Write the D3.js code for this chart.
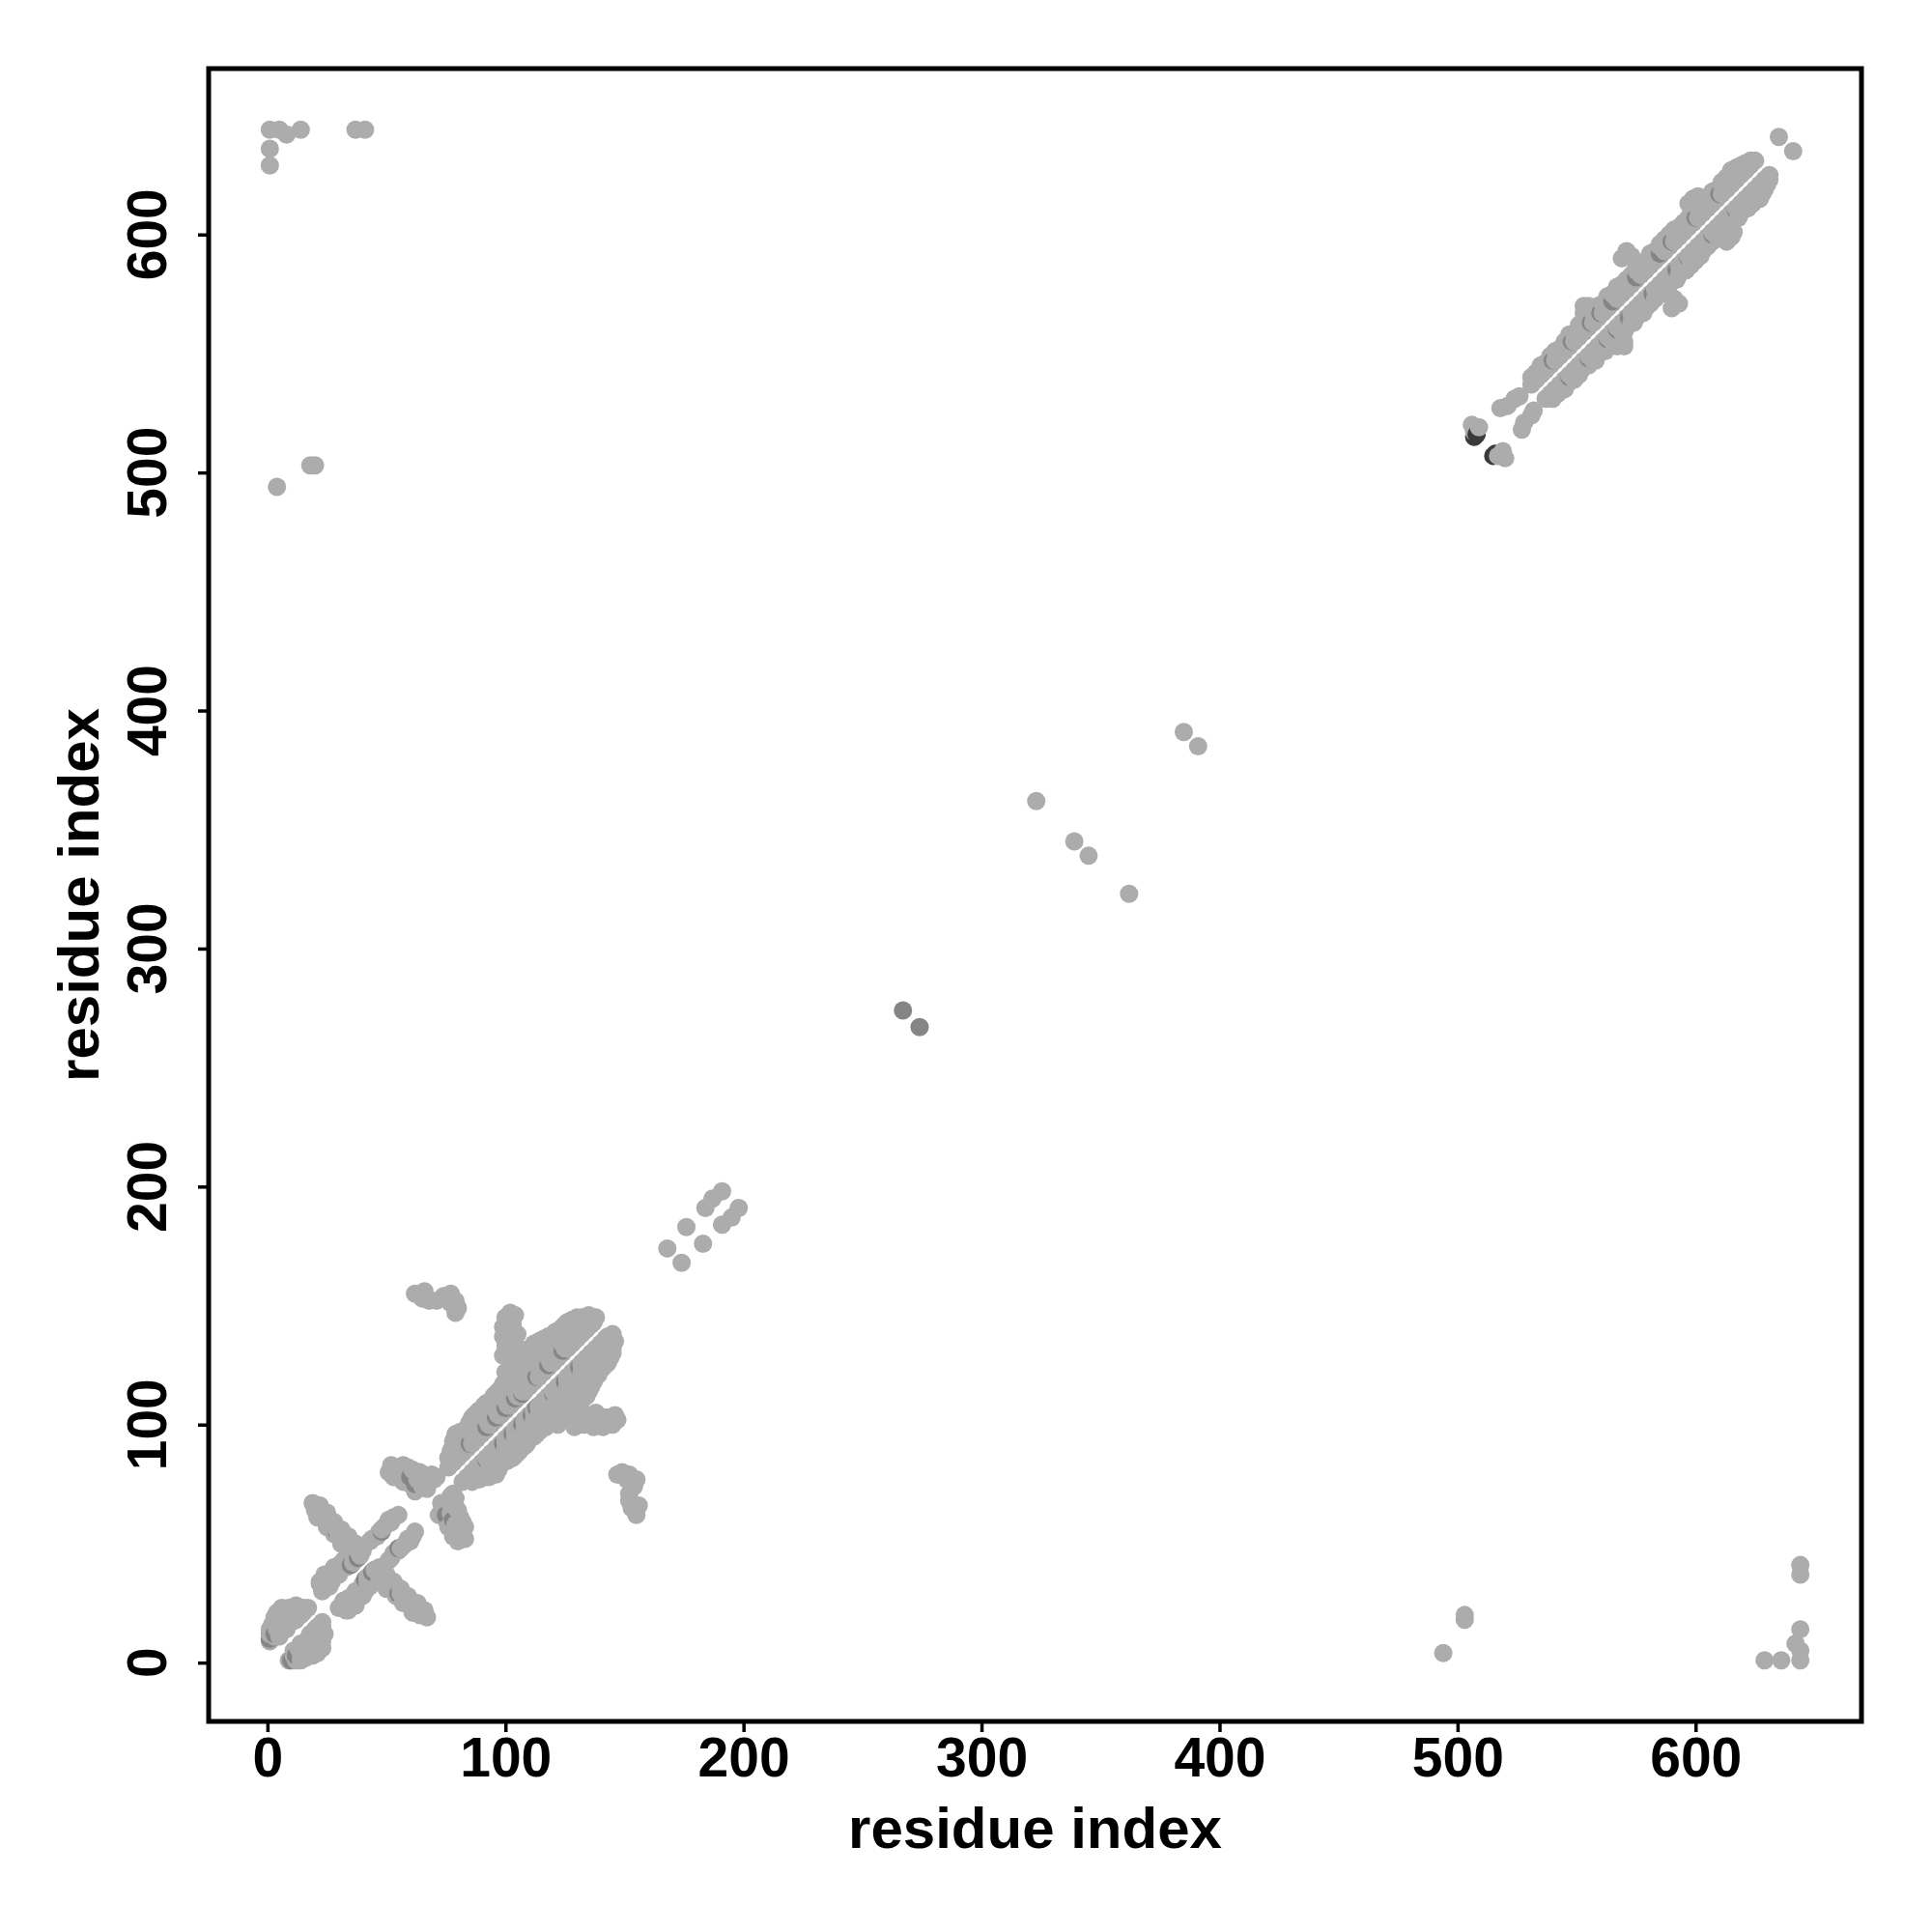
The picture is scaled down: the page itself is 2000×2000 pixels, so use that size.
<!DOCTYPE html>
<html>
<head>
<meta charset="utf-8">
<script src="https://cdn.jsdelivr.net/npm/d3@7"></script>
<style>
  html, body { margin: 0; padding: 0; background: #ffffff; }
  svg { display: block; }
</style>
</head>
<body>
<script>
// ---------------- DATA (contact pairs i < j, residue indices) ----------------
const tickValues = [0, 100, 200, 300, 400, 500, 600];
const xTitle = "residue index";
const yTitle = "residue index";

const contactsA = [[1,9],[1,12],[1,14],[2,16],[3,19],[4,21],[6,23],[9,23],[12,24],[15,23],[17,23],[3,11],[4,14],[5,17],[7,20],[9,20],[11,21],[13,21],[15,21],[6,13],[8,16],[10,17],[12,18],[14,20],[8,14],[5,11]];

const contactsB = [[19,67],[20,64],[21,61],[22,66],[23,63],[24,60],[25,57],[25,63],[26,60],[27,57],[28,54],[28,59],[29,56],[30,53],[31,50],[31,56],[32,53],[33,50],[34,47],[34,53],[35,50],[36,47],[37,44],[37,50],[38,47],[39,45],[40,47],
  [22,33],[22,34],[23,30],[24,31],[24,37],[25,35],[26,32],[26,36],[27,34],[28,37],[28,40],[30,37],[30,41],[31,40],[32,43],[33,40],[34,42],[36,42],
  [43,51],[44,52],[46,53],[47,55],[48,56],[49,57],[50,58],[51,60],[52,59],[53,61],[55,62]];

const contactsC = [[51,80],[52,83],[53,78],[55,81],[57,83],[57,76],[58,79],[59,82],[60,75],[61,81],[62,72],[63,77],[64,80],[65,74],[66,78],[67,73],[68,76],[69,79],[70,77],[71,78]];

const contactsD = [[76,82],[76,86],[77,84],[77,89],[78,84],[78,88],[78,93],[79,86],[79,91],[79,96],[80,86],[80,90],[80,95],[81,88],[81,93],[81,97],[82,88],[82,92],[83,90],[83,95],
  [84,90],[84,94],[84,99],[85,92],[85,97],[85,101],[86,92],[86,96],[86,103],[87,94],[87,99],[87,104],[88,94],[88,98],[88,105],[89,96],[89,101],[89,106],[90,96],[90,100],[90,106],
  [91,98],[91,103],[91,108],[92,98],[92,102],[92,109],[93,100],[93,105],[93,109],[94,100],[94,104],[94,110],[95,102],[95,107],[95,112],[96,102],[96,106],[96,113],[97,104],[97,109],[97,114],
  [98,104],[98,108],[98,115],[99,106],[99,111],[99,117],[100,106],[100,110],[100,117],[100,122],[101,108],[101,113],[101,119],[102,108],[102,112],[102,118],[102,124],[103,110],[103,115],[103,121],
  [104,110],[104,114],[104,120],[104,126],[105,112],[105,117],[105,123],[106,112],[106,116],[106,122],[106,128],[107,114],[107,119],[107,125],[108,114],[108,118],[108,124],[108,130],
  [109,116],[109,121],[109,127],[110,116],[110,120],[110,126],[110,132],[111,118],[111,123],[111,129],[112,118],[112,122],[112,128],[112,134],[113,120],[113,125],[113,131],
  [114,120],[114,124],[114,130],[114,135],[115,122],[115,127],[115,133],[116,122],[116,126],[116,132],[116,136],[117,124],[117,129],[117,134],[118,124],[118,128],[118,134],[118,137],
  [119,126],[119,131],[119,136],[120,126],[120,130],[120,138],[121,128],[121,133],[121,139],[122,128],[122,132],[122,139],[123,130],[123,135],[123,140],[124,130],[124,134],[124,141],
  [125,132],[125,137],[125,142],[126,132],[126,136],[126,143],[127,134],[127,139],[128,134],[128,138],[128,144],[129,136],[129,141],[130,136],[130,140],[130,145],[131,138],[131,143],
  [132,138],[132,142],[132,145],[133,140],[133,144],[134,140],[134,143],[135,142],[135,146],[136,142],[137,143],[138,145],
  [99,129],[100,133],[101,137],[99,141],[100,145],[102,147],[104,146],[103,142],[105,138],[104,134],[103,130],[106,131],[99,137],[101,141]];

const contactsE = [[62,155],[65,153],[66,156],[68,152],[71,152],[74,154],[77,155],[79,152],[80,149],[77,151],[79,147]];

const contactsF = [[506,520],[507,517],[509,519],[518,527],[521,528],[524,531],[526,532],
  [531,537],[531,540],[533,539],[533,542],[535,541],[535,545],[537,543],[537,546],[539,545],[539,549],[541,547],[541,551],[543,549],[543,552],[545,551],[545,555],
  [547,553],[547,557],[547,558],[549,555],[549,558],[551,557],[551,560],[551,562],[553,559],[553,563],[553,567],[553,570],[555,561],[555,565],[555,570],[557,563],[557,567],
  [559,565],[559,569],[559,570],[561,567],[561,571],[563,569],[563,573],[563,574],[565,571],[565,575],[567,573],[567,577],[567,578],[569,575],[569,579],[569,590],
  [571,577],[571,581],[571,593],[573,579],[573,583],[573,591],[575,581],[575,585],[575,586],[577,583],[577,587],[577,588],[579,585],[579,589],[581,587],[581,591],[581,592],
  [583,589],[583,593],[585,591],[585,595],[585,596],[587,593],[587,597],[587,598],[589,595],[589,599],[589,600],[591,597],[591,601],[591,602],[593,599],[593,603],
  [595,601],[595,605],[597,603],[597,607],[597,613],[599,605],[599,609],[599,615],[601,607],[601,611],[601,616],[603,609],[603,613],[605,611],[605,615],
  [607,613],[607,617],[607,618],[609,615],[609,619],[611,617],[611,621],[611,622],[613,619],[613,623],[613,624],[615,621],[615,625],[615,627],[617,623],[617,627],[617,628],
  [619,625],[619,629],[621,627],[621,630],[623,629],[623,631],[625,631]];

const isolatedContacts = [[4,494],[18,503],[20,503],[1,644],[5,644],[8,642],[14,644],[1,636],[1,629],[37,644],[41,644],[168,174],[176,183],[184,191],[187,195],[191,198],[323,362],[339,345],[385,391],[635,641]];

// stronger (darker) contacts
const strongContacts = [[1,10],[3,12],[29,55],[35,41],[38,44],[48,55],[60,78],[62,75],[85,92],[92,99],[96,103],[100,107],[104,111],[107,113],[113,120],[118,125],[124,131],
  [267,274],[540,547],[548,555],[556,563],[560,567],[565,572],[575,582],[585,592],[590,597],[600,607],[610,617]];
const strongestContacts = [[507,515],[508,516]];

// ---------------- DRAWING ----------------
const W = 2000, H = 2000;
const box = { left: 216, right: 1927, top: 71, bottom: 1782 };
const domain = [-24.7, 669.7];

const x = d3.scaleLinear().domain(domain).range([box.left, box.right]);
const y = d3.scaleLinear().domain(domain).range([box.bottom, box.top]);

const svg = d3.select("body").append("svg")
  .attr("width", W).attr("height", H)
  .attr("xmlns", "http://www.w3.org/2000/svg");

svg.append("rect").attr("width", W).attr("height", H).attr("fill", "#ffffff");

const FONT = "'Liberation Sans', Arial, Helvetica, sans-serif";

// symmetric contact map: every pair drawn at (i,j) and (j,i)
function mirror(list, fill) {
  const out = [];
  list.forEach(([i, j]) => { out.push({ a: i, b: j, fill }); out.push({ a: j, b: i, fill }); });
  return out;
}

const LIGHT = "#acacac", STRONG = "#858585", STRONGEST = "#3a3a3a";
const allPoints = [].concat(
  mirror([].concat(contactsA, contactsB, contactsC, contactsD, contactsE, contactsF, isolatedContacts), LIGHT),
  mirror(strongContacts, STRONG),
  mirror(strongestContacts, STRONGEST)
);
// plotted in residue order (as a plotting loop over residues would)
allPoints.sort((p, q) => (p.a - q.a) || (p.b - q.b));

svg.append("clipPath").attr("id", "plotclip")
  .append("rect").attr("x", box.left).attr("y", box.top)
  .attr("width", box.right - box.left).attr("height", box.bottom - box.top);

const R = 9.5;
svg.append("g").attr("clip-path", "url(#plotclip)")
  .selectAll("circle").data(allPoints).join("circle")
  .attr("cx", d => x(d.a)).attr("cy", d => y(d.b)).attr("r", R)
  .attr("fill", d => d.fill);

// axes
const xAxis = d3.axisBottom(x).tickValues(tickValues).tickSize(11).tickPadding(5.5).tickFormat(d3.format("d"));
const xg = svg.append("g").attr("transform", `translate(0,${box.bottom})`).call(xAxis);
xg.select(".domain").remove();
xg.selectAll(".tick line").attr("stroke", "#000").attr("stroke-width", 3.5);
xg.selectAll(".tick text").attr("font-family", FONT).attr("font-size", 57)
  .attr("font-weight", "bold").attr("fill", "#000");

const yAxis = d3.axisLeft(y).tickValues(tickValues).tickSize(11).tickFormat("");
const yg = svg.append("g").attr("transform", `translate(${box.left},0)`).call(yAxis);
yg.select(".domain").remove();
yg.selectAll(".tick line").attr("stroke", "#000").attr("stroke-width", 3.5);

svg.append("g").selectAll("text").data(tickValues).join("text")
  .attr("x", 172).attr("y", d => y(d))
  .attr("transform", d => `rotate(-90,172,${y(d)})`)
  .attr("text-anchor", "middle")
  .attr("font-family", FONT).attr("font-size", 57).attr("font-weight", "bold")
  .attr("fill", "#000")
  .text(d => d3.format("d")(d));

// frame
svg.append("rect")
  .attr("x", box.left).attr("y", box.top)
  .attr("width", box.right - box.left).attr("height", box.bottom - box.top)
  .attr("fill", "none").attr("stroke", "#000").attr("stroke-width", 5);

// titles
svg.append("text")
  .attr("x", (box.left + box.right) / 2).attr("y", 1913)
  .attr("text-anchor", "middle")
  .attr("font-family", FONT).attr("font-size", 60).attr("font-weight", "bold")
  .text(xTitle);

const ty = (box.top + box.bottom) / 2;
svg.append("text")
  .attr("x", 102).attr("y", ty)
  .attr("transform", `rotate(-90,102,${ty})`)
  .attr("text-anchor", "middle")
  .attr("font-family", FONT).attr("font-size", 60).attr("font-weight", "bold")
  .text(yTitle);
</script>
</body>
</html>
